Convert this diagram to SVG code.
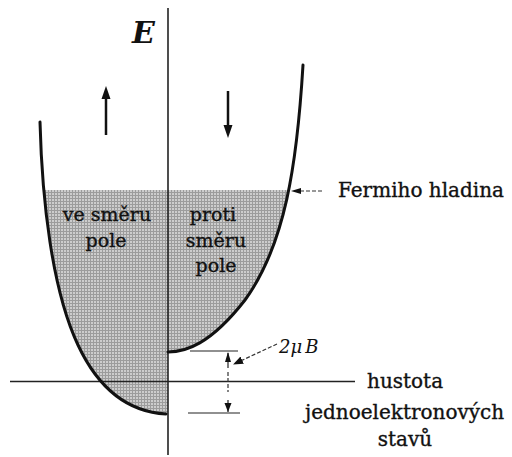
<svg xmlns="http://www.w3.org/2000/svg" width="512" height="457" viewBox="0 0 512 457">
<style>
.t{font-family:"DejaVu Serif","Liberation Serif",serif;font-size:20px;fill:#111;stroke:#111;stroke-width:0.35}
.ax{stroke:#222;stroke-width:1.6;fill:none}
.cv{stroke:#111;stroke-width:3;fill:none;stroke-linecap:round}
.thin{stroke:#222;stroke-width:1.2;fill:none}
.dash{stroke:#333;stroke-width:1.2;fill:none;stroke-dasharray:4 2}
</style>
<defs>
<pattern id="stip" width="3" height="3" patternUnits="userSpaceOnUse">
<rect width="3" height="3" fill="#cdcdcd"/>
<path d="M0,0.5H3M0.5,0V3" stroke="#9c9c9c" stroke-width="1"/>
</pattern>
<clipPath id="below"><rect x="0" y="190" width="512" height="267"/></clipPath>
<marker id="ah" viewBox="0 0 10 10" refX="9" refY="5" markerWidth="10" markerHeight="10" markerUnits="userSpaceOnUse" orient="auto"><path d="M0,1L10,5L0,9Z" fill="#111"/></marker>
</defs>
<g id="fill">
<path clip-path="url(#below)" fill="url(#stip)" d="M40,122 C42,200 52,290 78,345 C100,392 130,412 166,414 L168,414 L168,352 C185,352 210,345 245,300 C285,245 297,165 303,65 Z"/>
</g>
<g id="axes">
<line class="ax" x1="168" y1="8" x2="168" y2="455"/>
<line class="ax" x1="10" y1="381.5" x2="355" y2="381.5"/>
<text x="132" y="43" style="font-family:'DejaVu Serif','Liberation Serif',serif;font-style:italic;font-weight:bold;font-size:30px;fill:#111">E</text>
</g>
<g id="curve-up">
<path class="cv" d="M40,122 C42,200 52,290 78,345 C100,392 130,412 166,414"/>
</g>
<g id="curve-down">
<path class="cv" d="M303,65 C297,165 285,245 245,300 C210,345 185,352 168,352"/>
</g>
<g id="spin-arrows">
<line x1="106" y1="135" x2="106" y2="96" stroke="#111" stroke-width="2.5"/>
<path d="M106,86L110.5,99L101.5,99Z" fill="#111"/>
<line x1="228" y1="91" x2="228" y2="128" stroke="#111" stroke-width="2.5"/>
<path d="M228,138L232.5,125L223.5,125Z" fill="#111"/>
</g>
<g id="labels-region">
<text class="t" x="107" y="221" text-anchor="middle" style="font-size:19px">ve směru</text>
<text class="t" x="106" y="247" text-anchor="middle" style="font-size:19px">pole</text>
<text class="t" x="213" y="221" text-anchor="middle" style="font-size:19px">proti</text>
<text class="t" x="216" y="247" text-anchor="middle" style="font-size:19px">směru</text>
<text class="t" x="216" y="272" text-anchor="middle" style="font-size:19px">pole</text>
</g>
<g id="connectors">
<line class="dash" x1="322" y1="191" x2="300" y2="191"/>
<path d="M291,191L301,188L301,194Z" fill="#111"/>
<line class="thin" x1="190" y1="351" x2="238" y2="351"/>
<line class="thin" x1="188" y1="413" x2="240" y2="413"/>
<line class="thin" x1="228" y1="353" x2="228" y2="368"/>
<path d="M228,352L231,362L225,362Z" fill="#111"/>
<line class="dash" x1="228" y1="372" x2="228" y2="392"/>
<line class="thin" x1="228" y1="400" x2="228" y2="412"/>
<path d="M228,412L231.5,403L224.5,403Z" fill="#111"/>
<line class="dash" x1="277" y1="344" x2="234" y2="364" marker-end="url(#ah)"/>
</g>
<g id="text-labels">
<text class="t" x="338" y="197">Fermiho hladina</text>
<text x="279" y="353" style="font-family:'DejaVu Serif','Liberation Serif',serif;font-style:italic;font-size:18px;fill:#111">2μ<tspan dx="3">B</tspan></text>
<text class="t" x="367" y="388">hustota</text>
<text class="t" x="305" y="419">jednoelektronových</text>
<text class="t" x="405" y="446" text-anchor="middle">stavů</text>
</g>
</svg>
